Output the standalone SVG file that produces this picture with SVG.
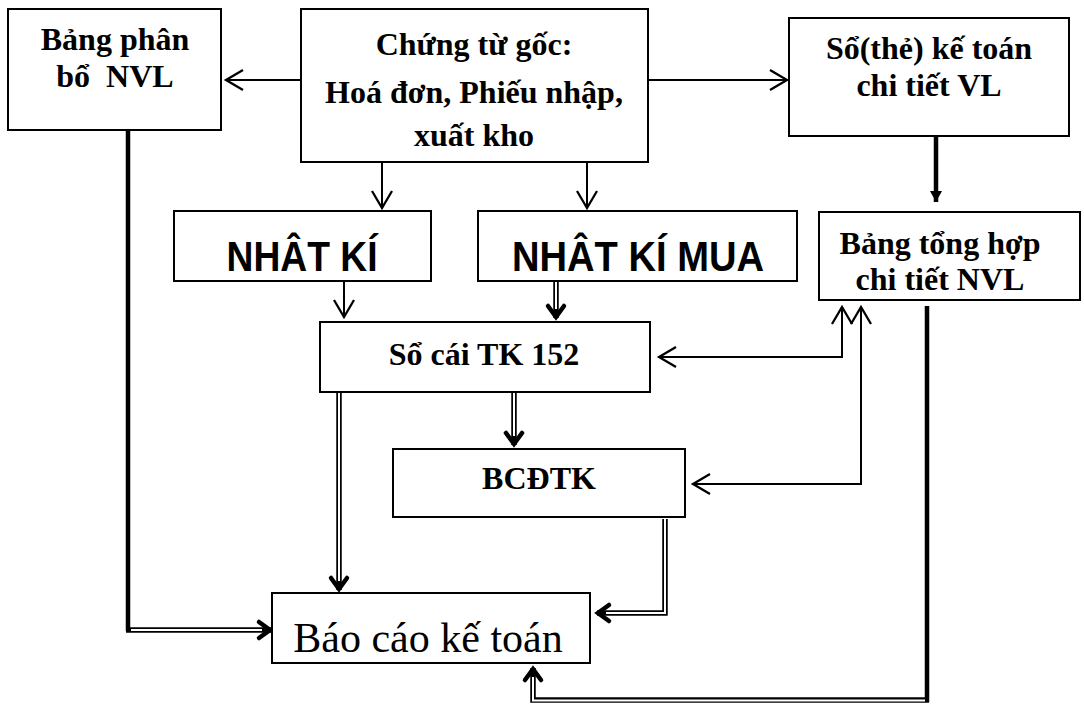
<svg xmlns="http://www.w3.org/2000/svg" width="1084" height="704" viewBox="0 0 1084 704">
  <style>
    .box { fill: #fff; stroke: #000; stroke-width: 2; }
    .lbl { font-family: "Liberation Serif", "Times New Roman", serif; font-weight: bold; font-size: 32px; fill: #000; text-anchor: middle; }
    .big { font-family: "Liberation Sans", Arial, sans-serif; font-weight: bold; font-size: 43px; fill: #000; text-anchor: middle; }
    .report { font-family: "Liberation Serif", "Times New Roman", serif; font-size: 42px; fill: #000; text-anchor: middle; }
    .thin { fill: none; stroke: #000; stroke-width: 2; }
    .thick { fill: none; stroke: #000; stroke-width: 4.5; }
    .dbl { fill: none; stroke: #000; stroke-width: 5.5; stroke-linejoin: miter; }
    .gap { fill: none; stroke: #fff; stroke-width: 2; stroke-linejoin: miter; }
  </style>
  <defs>
    <marker id="open" markerUnits="userSpaceOnUse" markerWidth="40" markerHeight="40" viewBox="-20 -20 40 40" refX="0" refY="0" orient="auto-start-reverse" overflow="visible">
      <path d="M-17,-10 L0,0 L-17,10" fill="none" stroke="#000" stroke-width="2.3"/>
    </marker>
    <marker id="bold" markerUnits="userSpaceOnUse" markerWidth="40" markerHeight="40" viewBox="-20 -20 40 40" refX="0" refY="0" orient="auto" overflow="visible">
      <path d="M-12,-8 L-1,0 L-12,8" fill="none" stroke="#000" stroke-width="4.5" stroke-linecap="round" stroke-linejoin="miter"/>
    </marker>
    <marker id="solid" markerUnits="userSpaceOnUse" markerWidth="30" markerHeight="30" viewBox="-15 -15 30 30" refX="0" refY="0" orient="auto" overflow="visible">
      <path d="M-11,-6 L0,0 L-11,6 Z" fill="#000"/>
    </marker>
  </defs>

  <!-- connectors -->
  <g id="connectors">
    <!-- source documents out to the side boxes -->
    <path class="thin" d="M301,80 H226" marker-end="url(#open)"/>
    <path class="thin" d="M648,80 H787" marker-end="url(#open)"/>
    <!-- source documents down to the journals -->
    <path class="thin" d="M382,162 V208" marker-end="url(#open)"/>
    <path class="thin" d="M587,162 V208" marker-end="url(#open)"/>
    <!-- detail ledger to summary table -->
    <path class="thick" d="M936,137 V202" marker-end="url(#solid)"/>
    <!-- journals to general ledger -->
    <path class="thin" d="M344,281 V317" marker-end="url(#open)"/>
    <path class="dbl" d="M556,282 V318" marker-end="url(#bold)"/>
    <path class="gap" d="M556,282 V309"/>
    <!-- reconciliation with the summary table -->
    <path class="thin" d="M659,357 H842 V307" marker-start="url(#open)" marker-end="url(#open)"/>
    <path class="thin" d="M693,484 H861 V307" marker-start="url(#open)" marker-end="url(#open)"/>
    <!-- ledger to balance sheet -->
    <path class="dbl" d="M514,393 V445" marker-end="url(#bold)"/>
    <path class="gap" d="M514,393 V436"/>
    <!-- ledger to report -->
    <path class="dbl" d="M339,393 V590" marker-end="url(#bold)"/>
    <path class="gap" d="M339,393 V581"/>
    <!-- allocation table to report -->
    <path class="thick" d="M128,131 V631"/>
    <path class="dbl" d="M126,630 H271" marker-end="url(#bold)"/>
    <path class="gap" d="M131,630 H262"/>
    <!-- balance sheet to report -->
    <path class="dbl" d="M665,519 V613 H597" marker-end="url(#bold)"/>
    <path class="gap" d="M665,519 V613 H606"/>
    <!-- summary table to report -->
    <path class="thick" d="M927,306 V702"/>
    <path class="dbl" d="M929,700 H533 V668" marker-end="url(#bold)"/>
    <path class="gap" d="M925,700.5 H533 V677"/>
  </g>

  <g id="bang-phan-bo">
    <rect class="box" x="8" y="9" width="213" height="121"/>
    <text class="lbl" x="115" y="50">Bảng phân</text>
    <text class="lbl" x="115" y="87">bổ&#160; NVL</text>
  </g>

  <g id="chung-tu-goc">
    <rect class="box" x="301" y="9" width="347" height="153"/>
    <text class="lbl" x="474" y="55">Chứng từ gốc:</text>
    <text class="lbl" x="474" y="103">Hoá đơn, Phiếu nhập,</text>
    <text class="lbl" x="474" y="146">xuất kho</text>
  </g>

  <g id="so-the-chi-tiet">
    <rect class="box" x="789" y="18" width="280" height="118"/>
    <text class="lbl" x="929" y="59">Sổ(thẻ) kế toán</text>
    <text class="lbl" x="929" y="96">chi tiết VL</text>
  </g>

  <g id="nhat-ki">
    <rect class="box" x="174" y="211" width="257" height="70"/>
    <text class="big" x="302" y="271" textLength="151" lengthAdjust="spacingAndGlyphs">NHÂT KÍ</text>
  </g>

  <g id="nhat-ki-mua">
    <rect class="box" x="478" y="211" width="319" height="70"/>
    <text class="big" x="638" y="271" textLength="252" lengthAdjust="spacingAndGlyphs">NHÂT KÍ MUA</text>
  </g>

  <g id="bang-tong-hop">
    <rect class="box" x="819" y="212" width="261" height="88"/>
    <text class="lbl" x="940" y="254">Bảng tổng hợp</text>
    <text class="lbl" x="940" y="290">chi tiết NVL</text>
  </g>

  <g id="so-cai">
    <rect class="box" x="320" y="322" width="330" height="70"/>
    <text class="lbl" x="484" y="365">Sổ cái TK 152</text>
  </g>

  <g id="bcdtk">
    <rect class="box" x="393" y="449" width="292" height="68"/>
    <text class="lbl" x="539" y="489">BCĐTK</text>
  </g>

  <g id="bao-cao">
    <rect class="box" x="272" y="593" width="318" height="70"/>
    <text class="report" x="428" y="652">Báo cáo kế toán</text>
  </g>
</svg>
